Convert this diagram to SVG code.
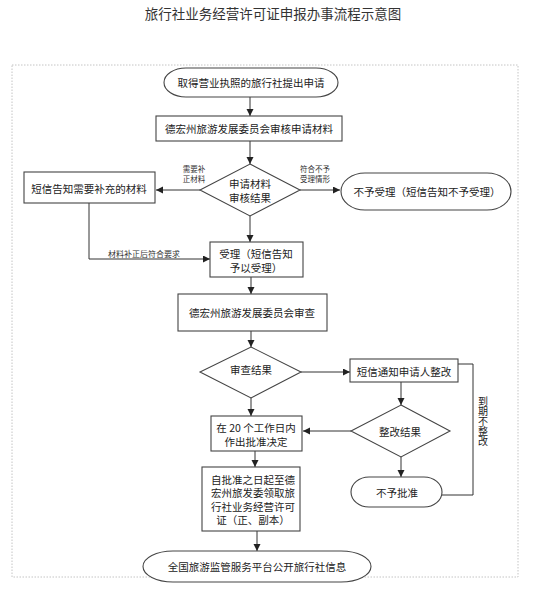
<svg xmlns="http://www.w3.org/2000/svg" width="553" height="600" viewBox="0 0 553 600">
<style>
text{font-family:"Noto Sans CJK SC","Noto Sans",sans-serif;fill:#222;text-anchor:middle;dominant-baseline:central}
.n{font-size:10.5px}
.v{font-size:10px;writing-mode:vertical-rl;text-anchor:start}
.s{font-size:7.5px;fill:#333}
.shape{fill:#fff;stroke:#444;stroke-width:1.1}
.c{fill:none;stroke:#333;stroke-width:1}
</style>
<defs>
<marker id="a" markerUnits="userSpaceOnUse" markerWidth="8" markerHeight="8" refX="7" refY="3.5" orient="auto">
<path d="M0,0 L7,3.5 L0,7 z" fill="#222"/>
</marker>
</defs>
<rect width="553" height="600" fill="#fff"/>
<text x="273" y="13" style="font-size:13.5px;fill:#333">旅行社业务经营许可证申报办事流程示意图</text>
<rect x="12" y="65" width="506" height="512" fill="none" stroke="#c4c4c4" stroke-width="1" stroke-dasharray="1.5,1.5"/>

<g id="connectors">
<path class="c" d="M250,97 V116" marker-end="url(#a)"/>
<path class="c" d="M250,141 V164" marker-end="url(#a)"/>
<path class="c" d="M200,190 H156" marker-end="url(#a)"/>
<path class="c" d="M300,190 H340" marker-end="url(#a)"/>
<path class="c" d="M250,216 V242" marker-end="url(#a)"/>
<path class="c" d="M89,203 V259 H210" marker-end="url(#a)"/>
<path class="c" d="M251,277 V294" marker-end="url(#a)"/>
<path class="c" d="M251,331 V347" marker-end="url(#a)"/>
<path class="c" d="M301,372 H350" marker-end="url(#a)"/>
<path class="c" d="M251,398 V416" marker-end="url(#a)"/>
<path class="c" d="M401,382 V405" marker-end="url(#a)"/>
<path class="c" d="M351,431 H303" marker-end="url(#a)"/>
<path class="c" d="M401,457 V477" marker-end="url(#a)"/>
<path class="c" d="M458,364 H473 V495 H442"/>
<path class="c" d="M255,451 V467" marker-end="url(#a)"/>
<path class="c" d="M257,531 V551" marker-end="url(#a)"/>
<text class="s" x="194" y="168">需要补</text>
<text class="s" x="194" y="178">正材料</text>
<text class="s" x="315" y="168">符合不予</text>
<text class="s" x="315" y="178">受理情形</text>
<text class="s" x="144" y="253" style="font-size:8px">材料补正后符合要求</text>
<text class="v" x="483" y="396">到期不整改</text>
</g>

<g id="start">
<rect class="shape" x="164" y="68" width="174" height="29" rx="22" ry="14.5"/>
<text class="n" x="251" y="82.5">取得营业执照的旅行社提出申请</text>
</g>
<g id="review-materials">
<rect class="shape" x="156" y="116" width="186" height="25"/>
<text class="n" x="249" y="128.5">德宏州旅游发展委员会审核申请材料</text>
</g>
<g id="decision1">
<polygon class="shape" points="250,164 300,190 250,216 200,190"/>
<text class="n" x="250" y="183">申请材料</text>
<text class="n" x="250" y="197">审核结果</text>
</g>
<g id="supplement">
<rect class="shape" x="24" y="172" width="131" height="31"/>
<text class="n" x="89" y="188">短信告知需要补充的材料</text>
</g>
<g id="reject-accept">
<rect class="shape" x="341" y="173" width="170" height="37" rx="24" ry="18.5"/>
<text class="n" x="427" y="191.5">不予受理（短信告知不予受理）</text>
</g>
<g id="accept">
<rect class="shape" x="210" y="242" width="93" height="35"/>
<text class="n" x="256" y="253">受理（短信告知</text>
<text class="n" x="256" y="267">予以受理）</text>
</g>
<g id="examine">
<rect class="shape" x="178" y="294" width="149" height="37"/>
<text class="n" x="252" y="312.5">德宏州旅游发展委员会审查</text>
</g>
<g id="decision2">
<polygon class="shape" points="251,347 301,372 251,398 200,372"/>
<text class="n" x="251" y="369">审查结果</text>
</g>
<g id="rectify-notice">
<rect class="shape" x="350" y="359" width="108" height="23"/>
<text class="n" x="404" y="371">短信通知申请人整改</text>
</g>
<g id="decision3">
<polygon class="shape" points="401,405 450,431 401,457 351,431"/>
<text class="n" x="400" y="431">整改结果</text>
</g>
<g id="deny">
<rect class="shape" x="351" y="477" width="91" height="30" rx="18" ry="15"/>
<text class="n" x="397" y="492">不予批准</text>
</g>
<g id="decide20">
<rect class="shape" x="211" y="416" width="91" height="35"/>
<text class="n" x="256" y="427">在 20 个工作日内</text>
<text class="n" x="256" y="441">作出批准决定</text>
</g>
<g id="collect">
<rect class="shape" x="202" y="467" width="98" height="64"/>
<text class="n" x="253" y="479">自批准之日起至德</text>
<text class="n" x="253" y="492.5">宏州旅发委领取旅</text>
<text class="n" x="253" y="506">行社业务经营许可</text>
<text class="n" x="253" y="519.5">证（正、副本）</text>
</g>
<g id="publish">
<rect class="shape" x="143" y="551" width="228" height="31" rx="30" ry="15.5"/>
<text class="n" x="257" y="566.5">全国旅游监管服务平台公开旅行社信息</text>
</g>
</svg>
